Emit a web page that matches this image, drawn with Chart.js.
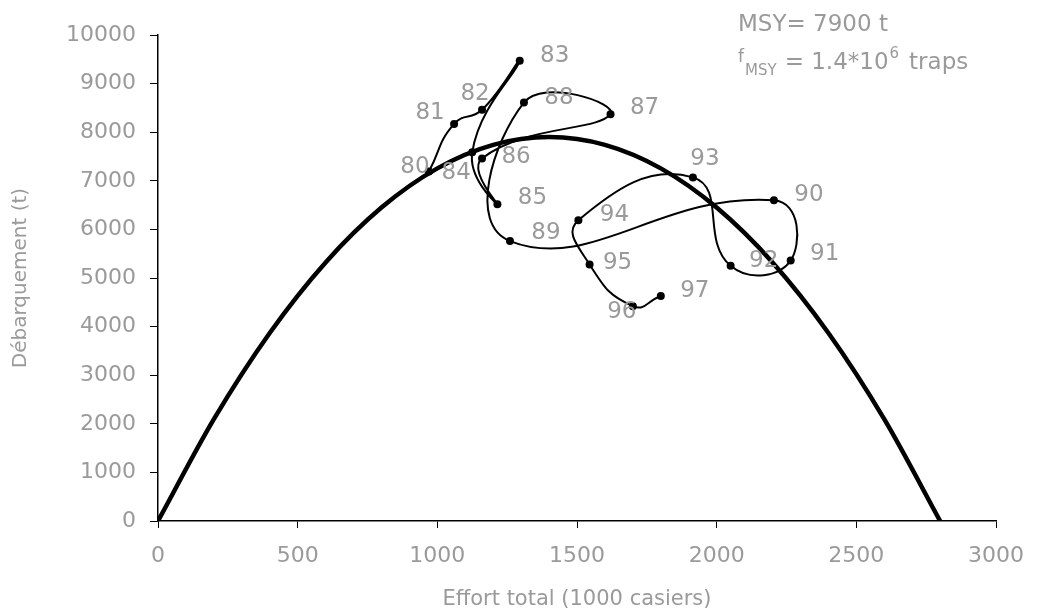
<!DOCTYPE html>
<html>
<head>
<meta charset="utf-8">
<script src="https://cdn.jsdelivr.net/npm/chart.js@4.4.1/dist/chart.umd.min.js"></script>
<style>
  html, body { margin: 0; padding: 0; background: #fff; }
  #wrap { width: 1039px; height: 616px; position: relative; }
</style>
</head>
<body>
<div id="wrap"><canvas id="c"></canvas></div>
<script>
// Yearly trajectory: fishing effort (1000 traps) and landings (t)
const years    = ['80','81','82','83','84','85','86','87','88','89','90','91','92','93','94','95','96','97'];
const effort   = [970, 1060, 1160, 1295, 1125, 1215, 1160, 1620, 1310, 1260, 2205, 2265, 2050, 1915, 1505, 1545, 1700, 1800];
const landings = [7190, 8170, 8460, 9470, 7590, 6520, 7460, 8370, 8610, 5760, 6600, 5360, 5250, 7070, 6190, 5280, 4420, 4630];

// Equilibrium yield curve (surplus production model)
const modelEffort = [0, 200, 400, 600, 800, 1000, 1200, 1400, 1600, 1800, 2000, 2200, 2400, 2600, 2800];
const modelYield  = [0, 2096, 3869, 5320, 6449, 7255, 7739, 7900, 7739, 7255, 6449, 5320, 3869, 2096, 0];

// Axis ticks
const xTicks = [0, 500, 1000, 1500, 2000, 2500, 3000];
const yTicks = [0, 1000, 2000, 3000, 4000, 5000, 6000, 7000, 8000, 9000, 10000];

// Where each year label sits relative to its point (pixels)
const labelOffsets = {
  '80': [-14, -5], '81': [-24, -11], '82': [-7, -16], '83': [35, -5],
  '84': [-16, 21], '85': [35, -6], '86': [34, -1], '87': [34, -6],
  '88': [35, -5], '89': [36, -8], '90': [35, -5], '91': [34, -6],
  '92': [33, -5], '93': [12, -18], '94': [36, -5], '95': [28, -1],
  '96': [-11, 6], '97': [34, -5]
};

const TEXT = '#9a9a9a';
const FONT = '"DejaVu Sans", sans-serif';

const yearLabels = {
  id: 'yearLabels',
  afterDatasetsDraw(chart) {
    const ctx = chart.ctx;
    const meta = chart.getDatasetMeta(1);
    ctx.save();
    ctx.fillStyle = TEXT;
    ctx.font = '23px ' + FONT;
    ctx.textAlign = 'center';
    ctx.textBaseline = 'middle';
    meta.data.forEach((pt, i) => {
      const off = labelOffsets[years[i]] || [35, -5];
      ctx.fillText(years[i], pt.x + off[0], pt.y + off[1]);
    });

    // MSY annotation, top right
    ctx.textAlign = 'left';
    ctx.textBaseline = 'alphabetic';
    ctx.font = '23px ' + FONT;
    ctx.fillText('MSY= 7900 t', 738, 31);
    let x = 738;
    ctx.font = '17px ' + FONT;
    ctx.fillText('f', x, 62);
    x += 7;
    ctx.font = '15px ' + FONT;
    ctx.fillText('MSY', x, 75);
    x += ctx.measureText('MSY').width + 8;
    ctx.font = '23px ' + FONT;
    const mid = '= 1.4*10';
    ctx.fillText(mid, x, 69);
    x += ctx.measureText(mid).width + 1;
    ctx.font = '15px ' + FONT;
    ctx.fillText('6', x, 58);
    x += ctx.measureText('6').width + 10;
    ctx.font = '23px ' + FONT;
    ctx.fillText('traps', x, 69);
    ctx.restore();
  }
};

new Chart(document.getElementById('c'), {
  type: 'line',
  data: {
    datasets: [
      {
        label: 'Modèle',
        data: modelEffort.map((e, i) => ({ x: e, y: modelYield[i] })),
        borderColor: '#000',
        borderWidth: 4.5,
        pointRadius: 0,
        cubicInterpolationMode: 'monotone',
        order: 1
      },
      {
        label: 'Années',
        data: effort.map((e, i) => ({ x: e, y: landings[i] })),
        borderColor: '#000',
        borderWidth: 2,
        pointRadius: 4,
        pointBackgroundColor: '#000',
        pointBorderWidth: 0,
        tension: 0.5,
        order: 2
      }
    ]
  },
  options: {
    responsive: true,
    maintainAspectRatio: false,
    animation: false,
    events: [],
    layout: { padding: { left: 0, right: 39, top: 35, bottom: 0 } },
    plugins: { legend: { display: false }, tooltip: { enabled: false } },
    scales: {
      x: {
        type: 'linear',
        min: 0, max: 3000,
        afterBuildTicks(s) { s.ticks = xTicks.map(v => ({ value: v })); },
        afterFit(s) { s.height = 95; },
        ticks: { color: TEXT, font: { family: FONT, size: 22 }, padding: 15, maxRotation: 0, callback: v => String(v) },
        grid: { display: true, drawOnChartArea: false, drawTicks: true, tickLength: 7, tickColor: '#000', tickWidth: 1 },
        border: { color: '#000', width: 1.5 },
        title: { display: true, text: 'Effort total (1000 casiers)', color: TEXT, font: { family: FONT, size: 21 }, padding: { top: 0, bottom: 4 } }
      },
      y: {
        type: 'linear',
        min: 0, max: 10000,
        afterBuildTicks(s) { s.ticks = yTicks.map(v => ({ value: v })); },
        afterFit(s) { s.width = 158; },
        ticks: { color: TEXT, font: { family: FONT, size: 22 }, padding: 14, callback: v => String(v) },
        grid: { display: true, drawOnChartArea: false, drawTicks: true, tickLength: 8, tickColor: '#000', tickWidth: 1 },
        border: { color: '#000', width: 1.5 },
        title: { display: true, text: 'Débarquement (t)', color: TEXT, font: { family: FONT, size: 20 }, padding: { top: 9, bottom: 0 } }
      }
    }
  },
  plugins: [yearLabels]
});
</script>
</body>
</html>
